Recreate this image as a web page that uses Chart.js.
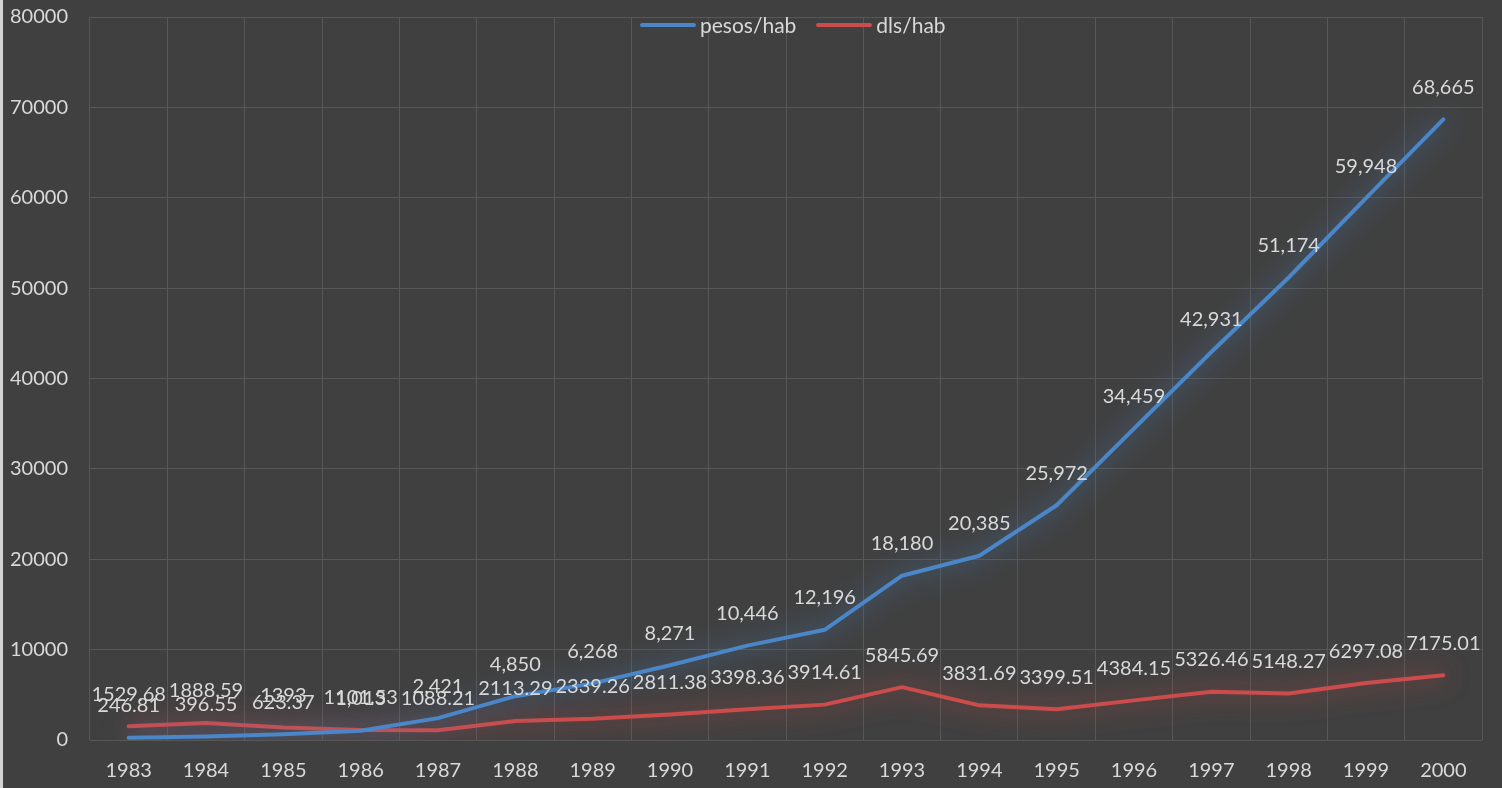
<!DOCTYPE html>
<html>
<head>
<meta charset="utf-8">
<script src="https://cdn.jsdelivr.net/npm/chart.js@4"></script>
<style>
    html, body { margin: 0; padding: 0; background: #404040; }
    #wrap { position: relative; width: 1502px; height: 788px; overflow: hidden; }
    #chart { position: absolute; left: 0; top: -17px; }
    #legend {
        position: absolute; top: 12px; left: 640px;
        display: flex; align-items: center;
        font-family: Lato, sans-serif; font-size: 21px; color: #d9d9d9;
    }
    .item { display: flex; align-items: center; margin-right: 20px; }
    .swatch { width: 56px; height: 4px; border-radius: 2px; margin-right: 4px; }
</style>
</head>
<body>
<div id="wrap">
    <canvas id="chart" width="1502" height="805"></canvas>
    <div id="legend"></div>
</div>
<script>
const years = ['1983', '1984', '1985', '1986', '1987', '1988', '1989', '1990', '1991',
    '1992', '1993', '1994', '1995', '1996', '1997', '1998', '1999', '2000'];
const pesosHab = [246.81, 396.55, 623.37, 1013, 2421, 4850, 6268, 8271, 10446,
    12196, 18180, 20385, 25972, 34459, 42931, 51174, 59948, 68665];
const dlsHab = [1529.68, 1888.59, 1393, 1101.53, 1088.21, 2113.29, 2339.26, 2811.38, 3398.36,
    3914.61, 5845.69, 3831.69, 3399.51, 4384.15, 5326.46, 5148.27, 6297.08, 7175.01];
const yTicks = [0, 10000, 20000, 30000, 40000, 50000, 60000, 70000, 80000];

const BLUE = '#4a86c8';
const RED = '#cc4c4c';
const TEXT = '#d9d9d9';
const FONT = 'Lato, sans-serif';

// Excel-like label formats per series
const pesosLabel = (v) => v < 1000 ? v.toFixed(2) : Math.round(v).toLocaleString('en-US');
const dlsLabel = (v) => String(v);

const glowPlugin = {
    id: 'glow',
    beforeDatasetDraw(chart, args) {
        const ds = chart.data.datasets[args.index];
        chart.ctx.save();
        chart.ctx.shadowColor = ds.borderColor;
        chart.ctx.shadowBlur = 26;
    },
    afterDatasetDraw(chart) {
        chart.ctx.restore();
    }
};

const labelPlugin = {
    id: 'pointLabels',
    afterDatasetsDraw(chart) {
        const ctx = chart.ctx;
        ctx.save();
        ctx.font = '20px ' + FONT;
        ctx.fillStyle = TEXT;
        ctx.textAlign = 'center';
        ctx.textBaseline = 'middle';
        [1, 0].forEach((di) => {
            const ds = chart.data.datasets[di];
            chart.getDatasetMeta(di).data.forEach((pt, i) => {
                ctx.fillText(ds.fmt(ds.data[i]), pt.x, pt.y - 32);
            });
        });
        // left edge border
        ctx.fillStyle = '#d4d4d4';
        ctx.fillRect(0, 0, 3, chart.height);
        ctx.restore();
    }
};

const chart = new Chart(document.getElementById('chart'), {
    type: 'line',
    data: {
        labels: years,
        datasets: [
            { label: 'pesos/hab', data: pesosHab, borderColor: BLUE, backgroundColor: BLUE, fmt: pesosLabel },
            { label: 'dls/hab', data: dlsHab, borderColor: RED, backgroundColor: RED, fmt: dlsLabel }
        ]
    },
    options: {
        responsive: false,
        animation: false,
        layout: { padding: { top: 0, right: 20, left: 0, bottom: 0 } },
        elements: {
            line: { borderWidth: 4, tension: 0, borderCapStyle: 'round', borderJoinStyle: 'round' },
            point: { radius: 0, hoverRadius: 0 }
        },
        plugins: { legend: { display: false }, tooltip: { enabled: false } },
        scales: {
            x: {
                offset: true,
                grid: { color: '#575757', lineWidth: 1, drawTicks: false, offset: true },
                border: { display: false },
                ticks: { color: TEXT, font: { family: FONT, size: 20 }, padding: 19, maxRotation: 0 },
                afterFit: (s) => { s.height = 48; }
            },
            y: {
                min: 0, max: 80000,
                afterBuildTicks: (s) => { s.ticks = yTicks.map((v) => ({ value: v })); },
                grid: { color: '#575757', lineWidth: 1, drawTicks: false },
                border: { display: false },
                ticks: { color: TEXT, font: { family: FONT, size: 20 }, padding: 22, callback: (v) => String(v) },
                afterFit: (s) => { s.width = 90; }
            }
        }
    },
    plugins: [glowPlugin, labelPlugin]
});

const legend = document.getElementById('legend');
chart.data.datasets.forEach((ds) => {
    const item = document.createElement('div');
    item.className = 'item';
    const sw = document.createElement('div');
    sw.className = 'swatch';
    sw.style.background = ds.borderColor;
    const txt = document.createElement('span');
    txt.textContent = ds.label;
    item.appendChild(sw);
    item.appendChild(txt);
    legend.appendChild(item);
});
</script>
</body>
</html>
